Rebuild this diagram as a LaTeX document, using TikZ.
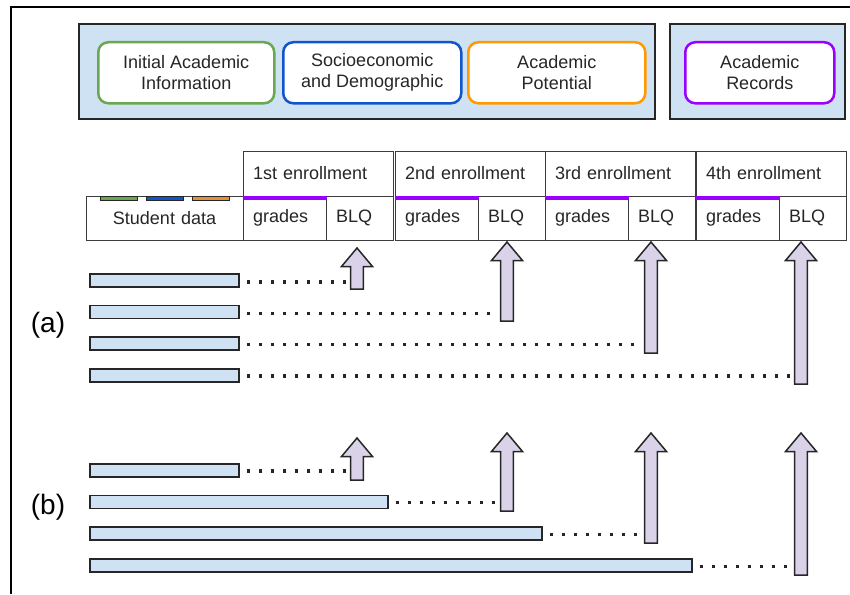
\documentclass[tikz,border=0pt]{standalone}
\usepackage{fontspec}
\setmainfont{Liberation Sans}
\usetikzlibrary{positioning}

\definecolor{paleblue}{HTML}{CFE2F3}
\definecolor{palelilac}{HTML}{D9D2E9}
\definecolor{gdgreen}{HTML}{6AA84F}
\definecolor{gdblue}{HTML}{1155CC}
\definecolor{gdorange}{HTML}{FF9900}
\definecolor{gdbrown}{HTML}{E69138}
\definecolor{gdpurple}{HTML}{9900FF}
\definecolor{ink}{HTML}{262626}

\tikzset{every picture/.style={line width=1pt}}
\tikzset{
  groupbox/.style={draw=ink, fill=paleblue, line width=1.5pt, inner sep=0pt,
                   outer sep=0pt, anchor=north west, minimum height=95},
  catbox/.style={draw=#1, fill=white, line width=2.5pt, rounded corners=10pt,
                 align=center, inner sep=0pt, anchor=north west,
                 minimum height=61, text=ink},
  cell/.style={draw=ink!90, line width=1pt, inner ysep=0pt, inner xsep=10pt,
               outer sep=0pt, anchor=north west, minimum height=44,
               align=left, text width=#1, text=ink},
  cell/.default={63},
  databar/.style={draw=ink, fill=paleblue, line width=1.8pt, inner sep=0pt,
                  outer sep=0pt, anchor=west, minimum height=13},
  arrowshape/.style={draw=ink, fill=palelilac, line width=1.5pt, line join=miter},
  dotline/.style={line width=3.2pt, dash pattern=on 3.2pt off 8.8pt, ink},
  every node/.style={font=\fontsize{18}{21}\selectfont},
}
% block arrow pointing up: x, tip y, bottom y
\newcommand{\blqarrow}[3]{%
  \draw[arrowshape] (#1-6.3,#3) -- (#1-6.3,#2+18.5) -- (#1-15.5,#2+18.5)
    -- (#1,#2) -- (#1+15.5,#2+18.5) -- (#1+6.3,#2+18.5) -- (#1+6.3,#3) -- cycle;}

\begin{document}
\begin{tikzpicture}[x=1pt,y=-1pt]
  \useasboundingbox (0,0) rectangle (850,594);
  % frame
  \draw[line width=2.8pt, black] (11,594) -- (11,7) -- (850,7);

  % data groups
  \node[groupbox, minimum width=576] (grp1) at (79,24) {};
  \node[groupbox, minimum width=175] (grp2) at (670,24) {};
  \node[catbox=gdgreen, minimum width=176] (cat1) at (97,41) {Initial Academic\\Information};
  \node[catbox=gdblue, minimum width=178] (cat2) at (282,41) {Socioeconomic\\and Demographic};
  \node[catbox=gdorange, minimum width=177] (cat3) at (467,41) {Academic\\Potential};
  \node[catbox=gdpurple, minimum width=149] (cat4) at (684,41) {Academic\\Records};

  % table of student data and enrollments
  \node[cell=137, align=center] (sdata) at (86,196) {Student data};
  \foreach \c [count=\k] in {gdgreen,gdblue,gdbrown} {
      \draw[draw=ink, fill=\c, line width=1pt]
        ([xshift=14+(\k-1)*46]sdata.north west) rectangle ++(37,4.5);
  };
  \foreach \lbl/\x [count=\i] in {1st/243,2nd/395,3rd/545,4th/696} {
      \node[cell] (gr\i) at (\x,196) {grades};
      \node[cell=47, right=0pt of gr\i] (blq\i) {BLQ};
      \node[cell=130, minimum height=45, above right=0pt of gr\i.north west] (enr\i) {\lbl\ enrollment};
      \fill[gdpurple] (gr\i.north west) rectangle ++(84,4);
  };

  % (a)
  \node[font=\fontsize{28}{30}\selectfont] (lbla) at (48,325) {(a)};
  \foreach \ax/\tip/\bot [count=\i] in {357/248/289,507/242/321,651/242/353,801/242/384} {
      \node[databar, minimum width=149] (abar\i) at (90,280.3+\i*31.6-31.6) {};
      \blqarrow{\ax}{\tip}{\bot}
      \coordinate (aend\i) at (\ax-11,282+\i*31.3-31.3);
      \draw[dotline] ([xshift=8]abar\i.east |- aend\i) -- (aend\i);
  };

  % (b)
  \node[font=\fontsize{28}{30}\selectfont] (lblb) at (48,507) {(b)};
  \foreach \ax/\tip/\bot/\w [count=\i] in {357/438/480/149,507/433/511/298,651/433/543/452,801/433/575/602} {
      \node[databar, minimum width=\w] (bbar\i) at (90,470.3+\i*31.7-31.7) {};
      \blqarrow{\ax}{\tip}{\bot}
      \coordinate (bend\i) at (\ax-11,471+\i*31.7-31.7);
      \draw[dotline] ([xshift=8]bbar\i.east |- bend\i) -- (bend\i);
  };
\end{tikzpicture}
\end{document}
